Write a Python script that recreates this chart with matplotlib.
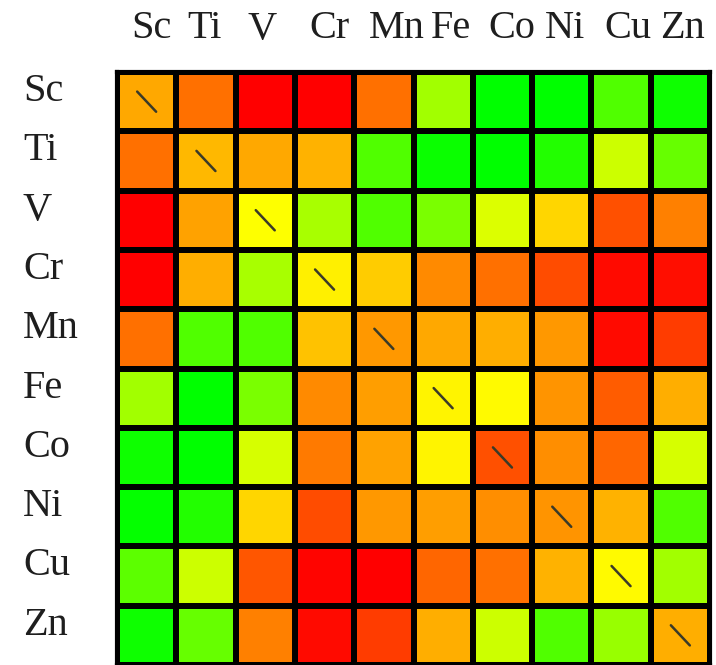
import matplotlib
matplotlib.use('Agg')
import matplotlib.pyplot as plt
import numpy as np
from matplotlib.colors import LinearSegmentedColormap

elements = ['Sc', 'Ti', 'V', 'Cr', 'Mn', 'Fe', 'Co', 'Ni', 'Cu', 'Zn']

# 0 = red, 0.5 = yellow, 1 = green
row_sc = [0.33, 0.22, 0.00, 0.00, 0.22, 0.68, 1.00, 1.00, 0.84, 0.97]
row_ti = [0.22, 0.36, 0.33, 0.35, 0.84, 0.98, 1.00, 0.93, 0.60, 0.80]
row_v = [0.00, 0.32, 0.50, 0.67, 0.84, 0.76, 0.57, 0.42, 0.16, 0.25]
row_cr = [0.00, 0.34, 0.67, 0.47, 0.40, 0.27, 0.22, 0.15, 0.02, 0.03]
row_mn = [0.22, 0.84, 0.84, 0.38, 0.30, 0.33, 0.34, 0.30, 0.02, 0.12]
row_fe = [0.68, 1.00, 0.76, 0.27, 0.31, 0.48, 0.49, 0.29, 0.18, 0.34]
row_co = [0.97, 1.00, 0.58, 0.24, 0.32, 0.48, 0.16, 0.28, 0.20, 0.58]
row_ni = [0.99, 0.93, 0.42, 0.15, 0.30, 0.31, 0.28, 0.29, 0.35, 0.84]
row_cu = [0.82, 0.60, 0.17, 0.01, 0.00, 0.20, 0.22, 0.35, 0.49, 0.68]
row_zn = [0.97, 0.80, 0.25, 0.02, 0.12, 0.34, 0.60, 0.84, 0.70, 0.34]

values = np.array([row_sc, row_ti, row_v, row_cr, row_mn,
                   row_fe, row_co, row_ni, row_cu, row_zn])

cmap = LinearSegmentedColormap.from_list('ryg', ['#ff0000', '#ffff00', '#00ff00'])

plt.rcParams['font.family'] = ['Liberation Serif', 'DejaVu Serif']

fig = plt.figure(figsize=(7.16, 6.65), dpi=100)
ax = fig.add_axes([117 / 716, 0.0, 593 / 716, 593 / 665])
cell = 59.3  # px per cell

n = len(elements)
ax.pcolormesh(np.arange(n + 1), np.arange(n + 1), values, cmap=cmap, vmin=0, vmax=1,
              edgecolors='black', linewidth=3.0)
ax.set_xlim(0, n)
ax.set_ylim(n, 0)

# short slash on the diagonal
for i in range(n):
    ax.plot([i + 0.34, i + 0.66], [i + 0.33, i + 0.67], color='#3a3a28', lw=1.8,
            solid_capstyle='round')

for s in ax.spines.values():
    s.set_linewidth(3.0)
    s.set_color('black')
ax.set_xticks([])
ax.set_yticks([])

# row labels (left aligned, a bit above cell centre)
for i, name in enumerate(elements):
    ax.text(-94 / cell, i + 0.33, name, fontsize=29, ha='left', va='center',
            color='#1e1e1e')

# column labels on top, loosely spaced as in the original
col_shift = [5, -1, -3, 5, 13, 8, 9, 3, 7, 2]  # px
for j, name in enumerate(elements):
    ax.text(j + 0.5 + col_shift[j] / cell, -43 / cell, name, fontsize=29,
            ha='center', va='center', color='#1e1e1e')

fig.savefig('out.png', dpi=100, facecolor='white')
